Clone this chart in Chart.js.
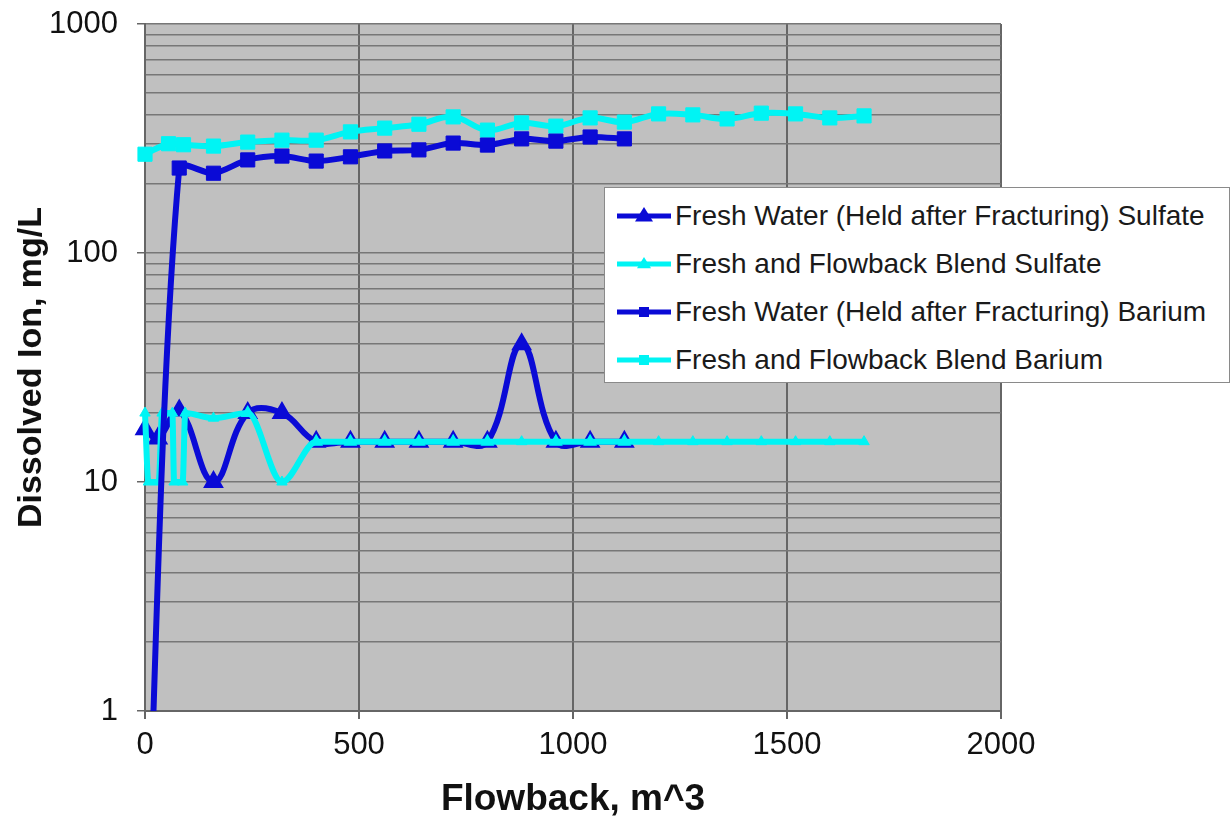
<!DOCTYPE html>
<html>
<head>
<meta charset="utf-8">
<script src="https://cdn.jsdelivr.net/npm/chart.js@4.4.1/dist/chart.umd.min.js"></script>
<style>
  html, body { margin: 0; padding: 0; background: #ffffff; }
  #wrap { position: relative; width: 1231px; height: 825px; }
  #legend {
    position: absolute; left: 604px; top: 187px; width: 624px; height: 194px;
    background: #ffffff; border: 1px solid #8a8a8a;
    font-family: 'Liberation Sans', Arial, sans-serif; font-size: 28px; color: #1a1a1a;
  }
  .row { position: absolute; left: 12px; height: 34px; display: flex; align-items: center; white-space: nowrap; }
  .row svg { margin-right: 4px; }
</style>
</head>
<body>
<div id="wrap">
  <canvas id="c" width="1231" height="825"></canvas>
  <div id="legend"></div>
</div>
<script>
// ---- Data ----
const seriesLabels = [
  'Fresh Water (Held after Fracturing) Sulfate',
  'Fresh and Flowback Blend Sulfate',
  'Fresh Water (Held after Fracturing) Barium',
  'Fresh and Flowback Blend Barium'
];

const freshSulfateX = [0, 30, 80, 160, 240, 320, 400, 480, 560, 640, 720, 800, 880, 960, 1040, 1120];
const freshSulfateY = [17, 15.5, 20.5, 10, 20, 20, 15, 15, 15, 15, 15, 15, 40, 15, 15, 15];

const blendSulfateX = [0, 8, 32, 40, 64, 68, 88, 94, 160, 240, 320, 400, 480, 560, 640, 720, 800, 880, 960, 1040, 1120, 1200, 1280, 1360, 1440, 1520, 1600, 1680];
const blendSulfateY = [20, 10, 10, 20, 20, 10, 10, 20, 19, 20, 10, 15, 15, 15, 15, 15, 15, 15, 15, 15, 15, 15, 15, 15, 15, 15, 15, 15];

const freshBariumX = [0, 80, 160, 240, 320, 400, 480, 560, 640, 720, 800, 880, 960, 1040, 1120];
const freshBariumY = [0.09, 235, 223, 255, 265, 252, 263, 279, 282, 302, 296, 315, 308, 321, 315];

const blendBariumX = [0, 55, 90, 160, 240, 320, 400, 480, 560, 640, 720, 800, 880, 960, 1040, 1120, 1200, 1280, 1360, 1440, 1520, 1600, 1680];
const blendBariumY = [270, 300, 297, 293, 305, 311, 311, 338, 351, 365, 393, 344, 370, 358, 389, 373, 405, 401, 385, 408, 405, 389, 397];

const yMajorTicks = [1, 10, 100, 1000];
const yGridMultipliers = [1, 2, 3, 4, 5, 6, 7, 8, 9];
const xTickStep = 500;

// ---- Styles ----
const DARK = '#0a0ad6';
const CYAN = '#00f4f4';
const FONT = "'Liberation Sans', Arial, sans-serif";

function pts(xs, ys) { return xs.map((x, i) => ({ x: x, y: ys[i] })); }

// Fresh sulfate markers appear cyan-filled where the blend series sits on the same point
const freshSulfateFill = freshSulfateX.map((x, i) => {
  const j = blendSulfateX.indexOf(x);
  return (j >= 0 && Math.abs(blendSulfateY[j] - freshSulfateY[i]) < 0.01) ? CYAN : DARK;
});

const yGridValues = [];
for (let d = 0; d < yMajorTicks.length - 1; d++) {
  yGridMultipliers.forEach(m => yGridValues.push(yMajorTicks[d] * m));
}
yGridValues.push(yMajorTicks[yMajorTicks.length - 1]);

const isMajor = v => yMajorTicks.indexOf(v) >= 0;

new Chart(document.getElementById('c'), {
  type: 'line',
  data: {
    datasets: [
      {
        label: seriesLabels[0], data: pts(freshSulfateX, freshSulfateY),
        borderColor: DARK, borderWidth: 6, tension: 0.4, clip: false,
        pointStyle: 'triangle', pointRadius: 10, pointBackgroundColor: freshSulfateFill,
        pointBorderColor: DARK, pointBorderWidth: 2, order: 4
      },
      {
        label: seriesLabels[1], data: pts(blendSulfateX, blendSulfateY),
        borderColor: CYAN, borderWidth: 6, cubicInterpolationMode: 'monotone', clip: false,
        pointStyle: 'triangle', pointRadius: 6, pointBackgroundColor: CYAN,
        pointBorderColor: CYAN, pointBorderWidth: 1, order: 3
      },
      {
        label: seriesLabels[2], data: pts(freshBariumX, freshBariumY),
        borderColor: DARK, borderWidth: 6, tension: 0.3,
        pointStyle: 'rect', pointRadius: 10, pointBackgroundColor: DARK,
        pointBorderColor: DARK, pointBorderWidth: 1, order: 1
      },
      {
        label: seriesLabels[3], data: pts(blendBariumX, blendBariumY),
        borderColor: CYAN, borderWidth: 6, tension: 0.4, clip: false,
        pointStyle: 'rect', pointRadius: 10, pointBackgroundColor: CYAN,
        pointBorderColor: CYAN, pointBorderWidth: 1, order: 2
      }
    ]
  },
  options: {
    responsive: false,
    animation: false,
    devicePixelRatio: 1,
    layout: { padding: { left: 0, top: 24, right: 230, bottom: 0 } },
    plugins: { legend: { display: false }, tooltip: { enabled: false } },
    scales: {
      x: {
        type: 'linear', min: 0, max: 2000,
        afterFit: s => { s.height = 114; },
        ticks: {
          stepSize: xTickStep, color: '#111', padding: 8,
          font: { family: FONT, size: 31 },
          callback: v => String(v)
        },
        grid: { color: '#666666', lineWidth: 2, tickLength: 8, tickColor: '#666666' },
        border: { color: '#666666', width: 2 },
        title: {
          display: true, text: 'Flowback, m^3', color: '#111',
          font: { family: FONT, size: 37, weight: 'bold' },
          padding: { top: 3, bottom: 3 }
        }
      },
      y: {
        type: 'logarithmic', min: 1, max: 1000,
        afterFit: s => { s.width = 145; s.paddingTop = 0; s.paddingBottom = 0; },
        afterBuildTicks: s => { s.ticks = yGridValues.map(v => ({ value: v, major: isMajor(v) })); },
        ticks: {
          autoSkip: false, color: '#111', padding: 19,
          font: { family: FONT, size: 31 },
          callback: v => isMajor(v) ? String(v) : ''
        },
        grid: {
          color: '#777777',
          lineWidth: 1.5, tickLength: 8,
          tickColor: ctx => (ctx.tick && isMajor(ctx.tick.value)) ? '#666666' : 'rgba(0,0,0,0)'
        },
        border: { color: '#666666', width: 2 },
        title: {
          display: true, text: 'Dissolved Ion, mg/L', color: '#111',
          font: { family: FONT, size: 34, weight: 'bold' },
          padding: { top: 11, bottom: 0 }
        }
      }
    }
  },
  plugins: [{
    id: 'plotBg',
    beforeDraw(chart) {
      const a = chart.chartArea, ctx = chart.ctx;
      ctx.save();
      ctx.fillStyle = '#c0c0c0';
      ctx.fillRect(a.left, a.top, a.right - a.left, a.bottom - a.top);
      ctx.restore();
    }
  }]
});

// ---- Legend (HTML, real text) ----
const legendStyles = [
  { color: DARK, shape: 'tri', size: 9 },
  { color: CYAN, shape: 'tri', size: 7 },
  { color: DARK, shape: 'sq', size: 10 },
  { color: CYAN, shape: 'sq', size: 10 }
];
const legend = document.getElementById('legend');
const rowTops = [11, 59, 107, 155];
seriesLabels.forEach((lab, i) => {
  const st = legendStyles[i];
  const row = document.createElement('div');
  row.className = 'row';
  row.style.top = rowTops[i] + 'px';
  const h = st.size;
  let marker;
  if (st.shape === 'tri') {
    marker = `<polygon points="27,${17 - h} ${27 - h},${17 + h * 0.6} ${27 + h},${17 + h * 0.6}" fill="${st.color}"/>`;
  } else {
    marker = `<rect x="${27 - h / 2}" y="${17 - h / 2}" width="${h}" height="${h}" fill="${st.color}"/>`;
  }
  row.innerHTML = `<svg width="54" height="34"><line x1="0" y1="17" x2="54" y2="17" stroke="${st.color}" stroke-width="5"/>${marker}</svg><span>${lab}</span>`;
  legend.appendChild(row);
});
</script>
</body>
</html>
